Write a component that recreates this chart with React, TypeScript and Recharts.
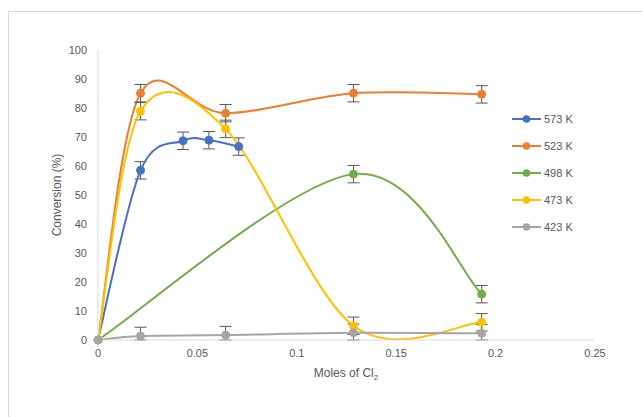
import { LineChart, Line, XAxis, YAxis, ErrorBar, Legend, Label } from "recharts"

// moles of Cl2 for each series
const x573 = [0, 0.0214, 0.0428, 0.0558, 0.0708]
const x523 = [0, 0.0214, 0.0642, 0.1285, 0.193]
const x498 = [0, 0.1285, 0.193]
const x473 = [0, 0.0214, 0.0642, 0.1285, 0.193]
const x423 = [0, 0.0214, 0.0642, 0.1285, 0.193]

// conversion (%)
const y573 = [0, 58.5, 68.7, 68.9, 66.7]
const y523 = [0, 85.1, 78.2, 85.1, 84.7]
const y498 = [0, 57.2, 15.8]
const y473 = [0, 78.9, 72.8, 4.9, 6.1]
const y423 = [0, 1.4, 1.7, 2.5, 2.3]

// error bars [below, above]; the 423 K ones are cut off at the axis
const e573 = [null, 3, 3, 3, 3]
const e523 = [null, 3, 3, 3, 3]
const e498 = [null, 3, 3]
const e473 = [null, 3, 3, 3, 3]
const e423 = [null, [1.4, 3], [1.7, 3], [2.5, 3], [2.3, 3]]

const xTicks = [0, 0.05, 0.1, 0.15, 0.2, 0.25]
const yTicks = [0, 10, 20, 30, 40, 50, 60, 70, 80, 90, 100]

const build = (xs: number[], ys: number[], es: any[]) =>
  xs.map((x, i) => ({ x, y: ys[i], err: es[i] }))

const series = [
  { name: "573 K", color: "#4472C4", data: build(x573, y573, e573) },
  { name: "523 K", color: "#ED7D31", data: build(x523, y523, e523) },
  { name: "498 K", color: "#70AD47", data: build(x498, y498, e498) },
  { name: "473 K", color: "#FFC000", data: build(x473, y473, e473) },
  { name: "423 K", color: "#A5A5A5", data: build(x423, y423, e423) },
]

const FONT = "'Liberation Sans', Arial, sans-serif"
const TEXT = "#595959"

// excel-like smoothed line (catmull-rom through the points)
function smoothCurve(context: any) {
  let pts: number[][] = []
  return {
    areaStart() {},
    areaEnd() {},
    lineStart() {
      pts = []
    },
    point(x: number, y: number) {
      pts.push([+x, +y])
    },
    lineEnd() {
      if (!pts.length) return
      context.moveTo(pts[0][0], pts[0][1])
      for (let i = 0; i < pts.length - 1; i++) {
        const p0 = pts[i - 1] || pts[i]
        const p1 = pts[i]
        const p2 = pts[i + 1]
        const p3 = pts[i + 2] || p2
        context.bezierCurveTo(
          p1[0] + (p2[0] - p0[0]) / 6,
          p1[1] + (p2[1] - p0[1]) / 6,
          p2[0] - (p3[0] - p1[0]) / 6,
          p2[1] - (p3[1] - p1[1]) / 6,
          p2[0],
          p2[1]
        )
      }
    },
  }
}

const renderLegend = () => (
  <div style={{ fontFamily: FONT, fontSize: 11, color: TEXT }}>
    {series.map((s) => (
      <div key={s.name} style={{ display: "flex", alignItems: "center", height: 26.8 }}>
        <svg width={30} height={10}>
          <line x1={0} y1={5} x2={29} y2={5} stroke={s.color} strokeWidth={2} />
          <circle cx={14.5} cy={5} r={3.8} fill={s.color} />
        </svg>
        <span style={{ marginLeft: 2 }}>{s.name}</span>
      </div>
    ))}
  </div>
)

export default function App() {
  return (
    <div style={{ position: "fixed", left: 0, top: 0, width: 642, height: 417, overflow: "hidden", background: "#fff" }}>
      <div
        style={{
          position: "absolute",
          left: 8,
          top: 11,
          width: 700,
          height: 500,
          borderLeft: "1px solid #d9d9d9",
          borderTop: "1px solid #d9d9d9",
        }}
      />
      <div style={{ position: "absolute", left: 0, top: 0 }}>
        <LineChart width={642} height={417} margin={{ top: 50, right: 47, bottom: 47, left: 38 }}>
          <XAxis
            dataKey="x"
            type="number"
            domain={[0, 0.25]}
            ticks={xTicks}
            allowDataOverflow
            height={30}
            stroke="#d9d9d9"
            tickLine={false}
            tickMargin={3}
            tick={{ fill: TEXT, fontSize: 11, fontFamily: FONT }}
          >
            <Label
              content={() => (
                <text x={346} y={377} textAnchor="middle" fill={TEXT} fontSize={12} fontFamily={FONT}>
                  Moles of Cl
                  <tspan fontSize={8} dy={3}>2</tspan>
                </text>
              )}
            />
          </XAxis>
          <YAxis
            type="number"
            domain={[0, 100]}
            ticks={yTicks}
            allowDataOverflow
            width={60}
            stroke="#d9d9d9"
            tickLine={false}
            tickMargin={5}
            tick={{ fill: TEXT, fontSize: 11, fontFamily: FONT }}
          >
            <Label
              content={() => (
                <text
                  x={57}
                  y={195}
                  transform="rotate(-90 57 195)"
                  textAnchor="middle"
                  dominantBaseline="central"
                  fill={TEXT}
                  fontSize={12}
                  fontFamily={FONT}
                >
                  Conversion (%)
                </text>
              )}
            />
          </YAxis>
          <Legend
            layout="vertical"
            align="center"
            verticalAlign="middle"
            content={renderLegend}
            wrapperStyle={{ left: 512, top: 106, width: 90 }}
          />
          {series.map((s) => (
            <Line
              key={s.name}
              name={s.name}
              data={s.data}
              dataKey="y"
              type={smoothCurve as any}
              stroke={s.color}
              strokeWidth={2}
              dot={{ r: 4, fill: s.color, stroke: s.color, strokeWidth: 1, clipDot: false }}
              activeDot={false}
              isAnimationActive={false}
            >
              <ErrorBar dataKey="err" width={6} stroke="#595959" strokeWidth={1} direction="y" />
            </Line>
          ))}
        </LineChart>
      </div>
    </div>
  )
}
